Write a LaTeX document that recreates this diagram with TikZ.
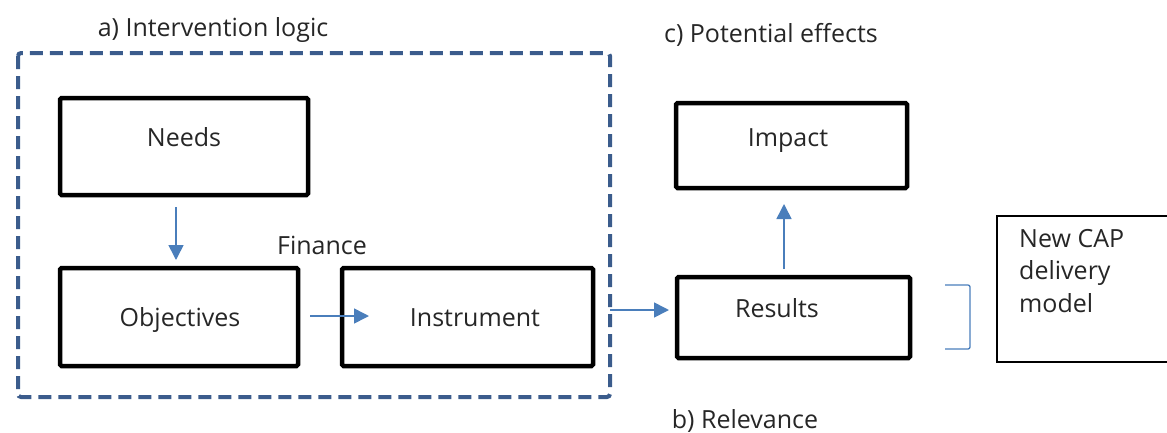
\documentclass[tikz,border=0pt]{standalone}
\usepackage{fontspec}
\setmainfont{Open Sans}
\usetikzlibrary{arrows.meta}
\definecolor{dashblue}{HTML}{3B5C8C}
\definecolor{arrblue}{HTML}{4A7EBB}
\definecolor{txt}{HTML}{262626}
\begin{document}
\begin{tikzpicture}[x=1pt,y=-1pt,
  font=\fontsize{25}{30}\selectfont, text=txt,
  box/.style={draw=black,line width=4.5pt,rounded corners=1.5pt},
  lbl/.style={inner sep=0pt,anchor=base},
  arr/.style={draw=arrblue,line width=1.6pt,-{Triangle[length=15pt,width=15pt]}},
]
\useasboundingbox (0,0) rectangle (1167,432);
\draw[dashblue,line width=4pt,dash pattern=on 13pt off 7pt,rounded corners=3pt] (18,53) rectangle (610,397);
\node[lbl] (la) at (213,36) {a) Intervention logic};
\node[lbl] (lc) at (771,42) {c) Potential effects};
\node[lbl] (lb) at (745,428) {b) Relevance};
\node[lbl] (fin) at (322,254) {Finance};

\draw[box] (60,98) rectangle (308,195);
\node[lbl] (needs) at (184,146) {Needs};
\draw[box] (60,268) rectangle (298,366);
\node[lbl] (obj) at (180,326) {Objectives};
\draw[box] (342,268) rectangle (593,366);
\node[lbl] (ins) at (475,326) {Instrument};
\draw[box] (677,277) rectangle (910,358);
\node[lbl] (res) at (777,317) {Results};
\draw[box] (676,103) rectangle (907,188);
\node[lbl] (imp) at (788,146) {Impact};

\coordinate (n1) at (176,207);
\coordinate (n2) at (176,260);
\draw[arr] (n1) -- (n2);
\coordinate (o1) at (310,316);
\coordinate (o2) at (369,316);
\draw[arr] (o1) -- (o2);
\coordinate (d1) at (610,310);
\coordinate (d2) at (669,310);
\draw[arr] (d1) -- (d2);
\coordinate (r1) at (784,269);
\coordinate (r2) at (784,204);
\draw[arr] (r1) -- (r2);

\draw[arrblue,line width=1.3pt,rounded corners=2pt] (945,285) -- (970,285) -- (970,349) -- (945,349);

\draw[black,line width=1.5pt] (997,216) rectangle (1170,362);
\node[anchor=north west,align=left,inner sep=0pt,font=\fontsize{25}{32.5}\selectfont] (cap) at (1019,229) {New CAP\\delivery\\model};
\end{tikzpicture}
\end{document}
